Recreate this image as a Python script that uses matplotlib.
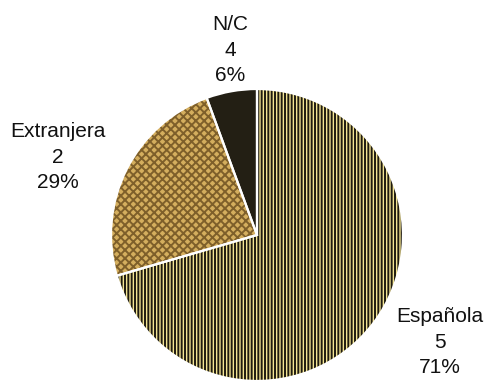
import matplotlib
matplotlib.use("Agg")
import matplotlib.pyplot as plt

plt.rcParams['font.family'] = ['Liberation Sans', 'DejaVu Sans']
plt.rcParams['hatch.linewidth'] = 1.4

# data
categories = ['Española', 'Extranjera', 'N/C']
counts = [5, 2, 4]
pct_labels = ['71%', '29%', '6%']
shares = [70.5, 23.9, 5.6]   # slice sizes as drawn

face_colors = ['#f4e594', '#d4ae5e', '#231f14']
hatch_colors = ['#1e1a10', '#7e5f2a', '#231f14']
hatches = ['|||||', 'xxxx', None]

# label centres (axes data units, pie radius = 1)
label_pos = [(1.253, -0.733), (-1.363, 0.534), (-0.185, 1.267)]

fig = plt.figure(figsize=(4.92, 3.8), dpi=100)
ax = fig.add_axes([0, 0, 1, 1])

wedges, _ = ax.pie(shares, startangle=90, counterclock=False,
                   colors=face_colors, wedgeprops=dict(linewidth=0))
for w, hc, h in zip(wedges, hatch_colors, hatches):
    w.set_edgecolor(hc)
    w.set_linewidth(0)
    if h:
        w.set_hatch(h)

# white separators / outline on top
outline, _ = ax.pie(shares, startangle=90, counterclock=False,
                    wedgeprops=dict(fill=False, edgecolor='white', linewidth=1.6))

for name, n, p, (x, y) in zip(categories, counts, pct_labels, label_pos):
    ax.text(x, y, f"{name}\n{n}\n{p}", ha='center', va='center',
            fontsize=15, linespacing=1.45, color='#111111')

ax.set_xlim(-257 / 146, (492 - 257) / 146)
ax.set_ylim(-(380 - 235) / 146, 235 / 146)
ax.set_aspect('equal')
ax.axis('off')

fig.savefig('out.png', dpi=100)
